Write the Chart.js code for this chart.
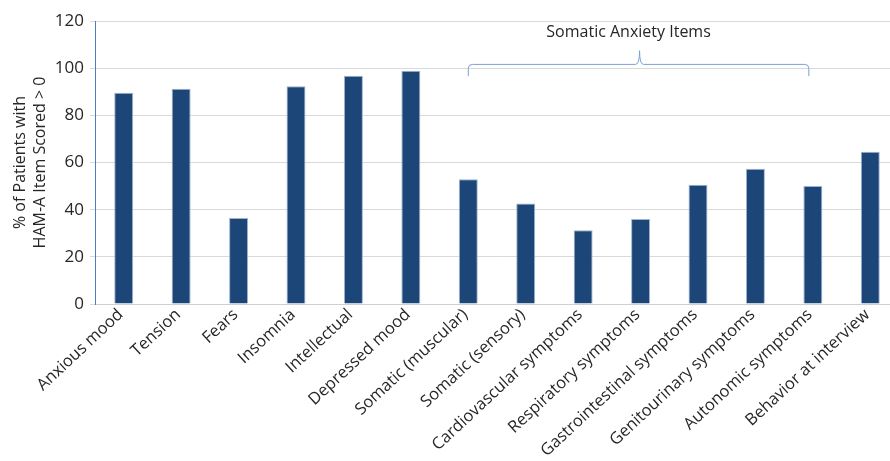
<!DOCTYPE html>
<html>
<head>
<meta charset="utf-8">
<script src="https://cdn.jsdelivr.net/npm/chart.js@4/dist/chart.umd.min.js"></script>
<style>
  html, body { margin: 0; padding: 0; background: #fff; overflow: hidden; }
  #wrap { width: 899px; height: 461px; }
</style>
</head>
<body>
<div id="wrap"><canvas id="c" width="899" height="461"></canvas></div>
<script>
// HAM-A items
const categories = [
  'Anxious mood', 'Tension', 'Fears', 'Insomnia', 'Intellectual', 'Depressed mood',
  'Somatic (muscular)', 'Somatic (sensory)', 'Cardiovascular symptoms',
  'Respiratory symptoms', 'Gastrointestinal symptoms', 'Genitourinary symptoms',
  'Autonomic symptoms', 'Behavior at interview'
];
// % of patients with item scored > 0
const percentScored = [89.6, 91.3, 36.5, 92.3, 96.8, 98.9, 52.9, 42.6, 31.3, 36.0, 50.6, 57.4, 50.0, 64.6];
const yTicks = [0, 20, 40, 60, 80, 100, 120];

// bracket over the somatic items: first/last category and its label
const bracketFrom = 6;
const bracketTo = 12;
const bracketLabel = 'Somatic Anxiety Items';

const FONT = '"Open Sans", "Noto Sans", sans-serif';
const TEXT = '#262626';

const bracketPlugin = {
  id: 'somaticBracket',
  afterDatasetsDraw(chart) {
    const { ctx, scales: { x, y } } = chart;
    const x0 = x.getPixelForValue(bracketFrom);
    const x1 = x.getPixelForValue(bracketTo) - 4;
    const xm = (x0 + x1) / 2 + 1;
    const yLine = y.getPixelForValue(101.6);
    const yEnd = y.getPixelForValue(96.6);
    const yPeak = y.getPixelForValue(107.4);
    const r = 4;
    ctx.save();
    ctx.strokeStyle = '#7aa0d8';
    ctx.lineWidth = 1;
    ctx.beginPath();
    ctx.moveTo(x0, yEnd);
    ctx.lineTo(x0, yLine + r);
    ctx.quadraticCurveTo(x0, yLine, x0 + r, yLine);
    ctx.lineTo(xm - r, yLine);
    ctx.quadraticCurveTo(xm, yLine, xm, yPeak);
    ctx.quadraticCurveTo(xm, yLine, xm + r, yLine);
    ctx.lineTo(x1 - r, yLine);
    ctx.quadraticCurveTo(x1, yLine, x1, yLine + r);
    ctx.lineTo(x1, yEnd);
    ctx.stroke();
    ctx.fillStyle = TEXT;
    ctx.font = '16px ' + FONT;
    ctx.textAlign = 'center';
    ctx.textBaseline = 'middle';
    ctx.fillText(bracketLabel, xm - 11, y.getPixelForValue(115));
    ctx.restore();
  }
};

new Chart(document.getElementById('c'), {
  type: 'bar',
  data: {
    labels: categories,
    datasets: [{
      data: percentScored,
      backgroundColor: '#1b4677',
      borderColor: '#9db2cf',
      borderWidth: 1,
      barPercentage: 0.33,
      categoryPercentage: 1.0
    }]
  },
  options: {
    responsive: false,
    animation: false,
    layout: { padding: { top: 21, right: 0, left: 10, bottom: 0 } },
    plugins: { legend: { display: false }, tooltip: { enabled: false } },
    scales: {
      x: {
        grid: { display: false, drawTicks: false },
        border: { color: '#cfcfcf', width: 1 },
        ticks: {
          color: TEXT,
          font: { family: FONT, size: 16.5 },
          maxRotation: 43,
          minRotation: 43,
          autoSkip: false,
          padding: 1,
          labelOffset: -3
        },
        afterFit(s) { s.height = 157; s.paddingLeft = 0; s.paddingRight = 0; }
      },
      y: {
        min: 0,
        max: 120,
        afterBuildTicks(s) { s.ticks = yTicks.map(v => ({ value: v })); },
        grid: { color: '#d9d9d9', lineWidth: 1, tickLength: 5 },
        border: { color: '#4a7cc9', width: 1 },
        ticks: {
          color: TEXT,
          font: { family: FONT, size: 17 },
          padding: 6
        },
        title: {
          display: true,
          text: ['% of Patients with', 'HAM-A Item Scored > 0'],
          color: TEXT,
          font: { family: FONT, size: 16, lineHeight: 1.25 },
          padding: { top: 0, bottom: 4 }
        },
        afterFit(s) { s.width = 85; s.paddingTop = 0; s.paddingBottom = 0; }
      }
    }
  },
  plugins: [bracketPlugin]
});
</script>
</body>
</html>
